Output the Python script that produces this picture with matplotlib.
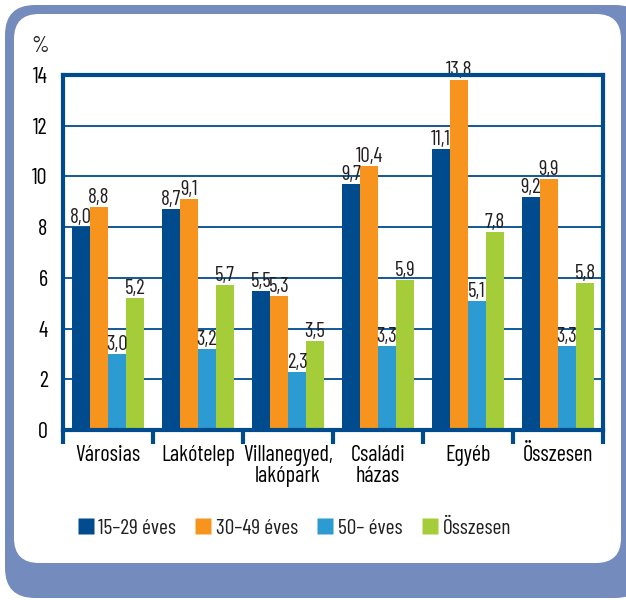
import matplotlib.pyplot as plt
from matplotlib.patches import FancyBboxPatch
from matplotlib.lines import Line2D
from matplotlib import font_manager
import numpy as np

categories = ['Városias', 'Lakótelep', 'Villanegyed,\nlakópark', 'Családi\nházas', 'Egyéb', 'Összesen']
labels = ['15–29 éves', '30–49 éves', '50– éves', 'Összesen']
s_15_29 = [8.0, 8.7, 5.5, 9.7, 11.1, 9.2]
s_30_49 = [8.8, 9.1, 5.3, 10.4, 13.8, 9.9]
s_50 = [3.0, 3.2, 2.3, 3.3, 5.1, 3.3]
s_total = [5.2, 5.7, 3.5, 5.9, 7.8, 5.8]
yticks = [0, 2, 4, 6, 8, 10, 12, 14]

colors = ['#004b8d', '#f7941e', '#2b9bd1', '#a5cd39']
frame = '#748bbd'
navy = '#004b8d'

# a condensed face, close to the original Futura Condensed
installed = {f.name for f in font_manager.fontManager.ttflist}
wanted = ['Barlow Condensed', 'Saira Condensed', 'Roboto Condensed', 'Archivo Narrow',
          'PT Sans Narrow', 'Oswald']
picked = [n for n in wanted if n in installed][:1]
plt.rcParams['font.family'] = picked + ['DejaVu Sans']
fs = 16
plt.rcParams['font.size'] = fs
plt.rcParams['text.color'] = '#231f20'

W, H = 626, 600
fig = plt.figure(figsize=(W / 100, H / 100), dpi=100)

# background frame in pixel coordinates
bg = fig.add_axes([0, 0, 1, 1])
bg.set_xlim(0, W)
bg.set_ylim(H, 0)
bg.axis('off')
bg.add_patch(FancyBboxPatch((5 + 30, 5 + 30), 640 - 60, 593 - 60,
                            boxstyle='round,pad=30', fc=frame, ec='none'))
bg.add_patch(FancyBboxPatch((14 + 25, 14 + 25), 607 - 50, 549 - 50,
                            boxstyle='round,pad=25', fc='white', ec='none'))

ax = fig.add_axes([63 / W, 1 - 430 / H, 540 / W, 355 / H])
ax.set_facecolor('none')

x = np.arange(len(categories))
series = [s_15_29, s_30_49, s_50, s_total]
offsets = [-0.3, -0.1, 0.1, 0.3]
for vals, off, col in zip(series, offsets, colors):
    bars = ax.bar(x + off, vals, width=0.2, color=col, zorder=3)
    for b, v in zip(bars, vals):
        ax.text(b.get_x() + b.get_width() / 2, v, f'{v:.1f}'.replace('.', ','),
                ha='center', va='bottom', fontsize=15, zorder=4)

ax.set_xlim(-0.5, len(categories) - 0.5)
ax.set_ylim(0, 14)
ax.set_yticks(yticks)
ax.tick_params(axis='y', length=0, pad=11, labelsize=fs)
for y in yticks[1:-1]:
    ax.axhline(y, color=navy, lw=1.3, zorder=1)

ax.set_xticks(np.arange(-0.5, len(categories), 1))
ax.set_xticklabels([])
ax.tick_params(axis='x', which='major', length=10, width=3, color=navy, direction='out')
ax.set_xticks(x, minor=True)
ax.set_xticklabels(categories, minor=True, linespacing=1.0)
ax.tick_params(axis='x', which='minor', length=0, pad=11, labelsize=fs)

for side in ['top', 'left', 'right', 'bottom']:
    ax.spines[side].set_color(navy)
    ax.spines[side].set_linewidth(3)
    ax.spines[side].set_zorder(5)

fig.text(40 / W, 1 - 47 / H, '%', ha='center', va='center', fontsize=fs)

handles = [Line2D([], [], marker='s', linestyle='none', markersize=11,
                  markerfacecolor=c, markeredgecolor='none') for c in colors]
fig.legend(handles, labels, loc='center left', bbox_to_anchor=(78 / W, 1 - 528 / H), ncol=4,
           frameon=False, fontsize=15.5, handlelength=0.7, handletextpad=0.25,
           columnspacing=0.9, borderpad=0, borderaxespad=0)

fig.savefig('out.png', dpi=100)
